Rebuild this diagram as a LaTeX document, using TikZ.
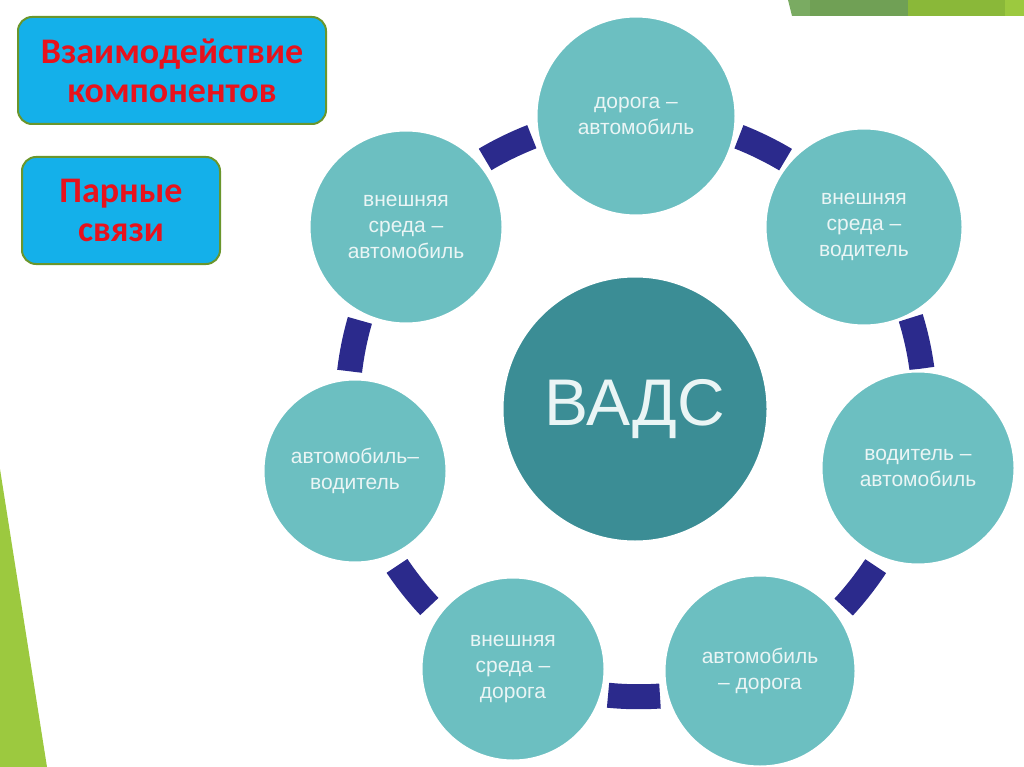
\documentclass[tikz,border=0pt]{standalone}
\usepackage{fontspec}
\setmainfont{Liberation Sans}
\newfontfamily\boxfont{Carlito}
\usetikzlibrary{backgrounds}
\definecolor{boxblue}{HTML}{14B0EA}
\definecolor{boxedge}{HTML}{6A962C}
\definecolor{boxred}{HTML}{E8121C}
\definecolor{ringfill}{HTML}{6CBFC1}
\definecolor{corefill}{HTML}{3B8D95}
\definecolor{linkblue}{HTML}{2B2A8C}
\definecolor{lighttext}{HTML}{EAF5F5}
\definecolor{greenA}{HTML}{7AAB62}
\definecolor{greenB}{HTML}{70A055}
\definecolor{greenC}{HTML}{8AB839}
\definecolor{greenD}{HTML}{9CC93F}
\begin{document}
\begin{tikzpicture}[x=1pt,y=-1pt,
  titlebox/.style={draw=boxedge, line width=2pt, fill=boxblue, rounded corners=14pt,
    text=boxred, font=\boxfont\bfseries\fontsize{36}{39}\selectfont, align=center, inner sep=0pt},
  outer/.style={circle, fill=ringfill, draw=white, line width=3pt, text=lighttext,
    font=\fontsize{21}{26}\selectfont, align=center, inner sep=0pt},
  core/.style={circle, fill=corefill, draw=white, line width=3pt, text=lighttext,
    font=\fontsize{66}{70}\selectfont, inner sep=0pt},
  link/.style={draw=linkblue, line width=25pt, bend left=25.7, looseness=0.85,
    dash pattern=on 0pt off #1pt on 52pt off 1000pt}]
\useasboundingbox (0,0) rectangle (1024,767);

% decorative green shapes
\fill[greenA] (788,0) -- (810,0) -- (810,16) -- (792,16) -- cycle;
\fill[greenB] (810,0) rectangle (908,16);
\fill[greenC] (908,0) rectangle (1005,16);
\fill[greenD] (1005,0) rectangle (1024,16);
\fill[greenD] (0,469) -- (47,767) -- (0,767) -- cycle;

% title boxes
\node[titlebox, minimum width=308pt, minimum height=107pt] (t1) at (172,70.5) {Взаимодействие\\компонентов};
\node[titlebox, minimum width=198pt, minimum height=107pt] (t2) at (121,210.5) {Парные\\связи};

% circles
\node[core, minimum size=266pt] (core) at (635,409) {ВАДС};
\node[outer, minimum size=200pt] (c1) at (636,116) {дорога –\\автомобиль};
\node[outer, minimum size=198pt] (c2) at (864,227) {внешняя\\среда –\\водитель};
\node[outer, minimum size=194pt] (c3) at (918,468) {водитель –\\автомобиль};
\node[outer, minimum size=192pt] (c4) at (760,671) {автомобиль\\– дорога};
\node[outer, minimum size=184pt] (c5) at (513,669) {внешняя\\среда –\\дорога};
\node[outer, minimum size=184pt] (c6) at (355,471) {автомобиль–\\водитель};
\node[outer, minimum size=194pt] (c7) at (406,227) {внешняя\\среда –\\автомобиль};

% connectors
\begin{scope}[on background layer]
\draw[link=105.6] (c1.center) to (c2.center);
\draw[link=102.7] (c2.center) to (c3.center);
\draw[link=107.5] (c3.center) to (c4.center);
\draw[link=103.7] (c4.center) to (c5.center);
\draw[link=105.0] (c5.center) to (c6.center);
\draw[link=100.4] (c6.center) to (c7.center);
\draw[link=104.6] (c7.center) to (c1.center);
\end{scope}
\end{tikzpicture}
\end{document}
